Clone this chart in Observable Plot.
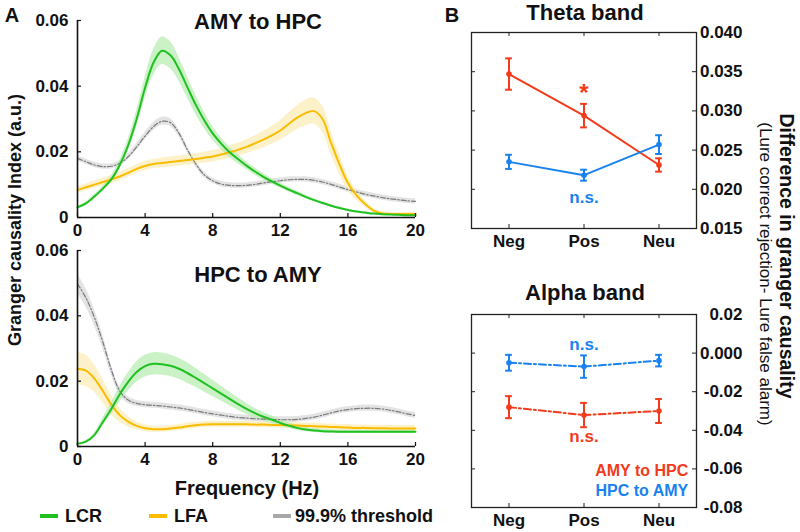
<!DOCTYPE html>
<html>
<head>
<meta charset="utf-8">
<script src="https://cdn.jsdelivr.net/npm/d3@7"></script>
<script src="https://cdn.jsdelivr.net/npm/@observablehq/plot@0.6"></script>
<style>
  html, body { margin:0; padding:0; background:#fff; }
  #wrap { position:relative; width:800px; height:532px; overflow:hidden; background:#fff;
          font-family:"Liberation Sans", Arial, Helvetica, sans-serif; color:#111; }
  #wrap svg { position:absolute; background:transparent; }
  .t { position:absolute; white-space:nowrap; }
</style>
</head>
<body>
<div id="wrap"></div>
<script>
// ---------- Panel A data ----------
const freq = [0,0.5,1,1.5,2,2.5,3,3.5,4,4.5,5,5.5,6,6.5,7,7.5,8,8.5,9,9.5,10,10.5,11,11.5,12,12.5,13,13.5,14,14.5,15,15.5,16,16.5,17,17.5,18,18.5,19,19.5,20];

// AMY to HPC
const lcrAmyHpc = [0.0031,0.0043,0.0064,0.0088,0.0116,0.0160,0.0220,0.0300,0.0395,0.0472,0.0508,0.0494,0.0452,0.0397,0.0343,0.0296,0.0256,0.0225,0.0199,0.0178,0.0158,0.0140,0.0124,0.0110,0.0097,0.0085,0.0074,0.0063,0.0053,0.0044,0.0036,0.0029,0.0023,0.0018,0.0015,0.0012,0.0010,0.0009,0.0008,0.0007,0.0007];
const lcrAmyHpcErr = [0.0003,0.0004,0.0006,0.0008,0.0010,0.0014,0.0019,0.0025,0.0032,0.0039,0.0042,0.0041,0.0037,0.0033,0.0029,0.0025,0.0021,0.0018,0.0016,0.0014,0.0012,0.0011,0.0010,0.0009,0.0008,0.0007,0.0006,0.0005,0.0004,0.0004,0.0003,0.0003,0.0002,0.0002,0.0002,0.0002,0.0002,0.0002,0.0002,0.0002,0.0002];
const lfaAmyHpc = [0.0084,0.0092,0.0100,0.0108,0.0116,0.0125,0.0136,0.0148,0.0157,0.0163,0.0166,0.0169,0.0172,0.0175,0.0178,0.0182,0.0186,0.0192,0.0199,0.0206,0.0215,0.0226,0.0237,0.0250,0.0265,0.0285,0.0304,0.0318,0.0324,0.0300,0.0228,0.0162,0.0105,0.0068,0.0042,0.0022,0.0013,0.0011,0.0011,0.0011,0.0011];
const lfaAmyHpcErr = [0.0010,0.0010,0.0011,0.0011,0.0012,0.0012,0.0013,0.0013,0.0014,0.0014,0.0015,0.0015,0.0015,0.0016,0.0016,0.0017,0.0017,0.0018,0.0019,0.0020,0.0021,0.0023,0.0025,0.0027,0.0030,0.0033,0.0036,0.0039,0.0040,0.0040,0.0036,0.0030,0.0022,0.0015,0.0010,0.0007,0.0005,0.0004,0.0004,0.0004,0.0004];
const thrAmyHpc = [0.0180,0.0170,0.0160,0.0155,0.0156,0.0165,0.0185,0.0215,0.0248,0.0277,0.0293,0.0289,0.0257,0.0207,0.0163,0.0130,0.0112,0.0102,0.0098,0.0097,0.0098,0.0101,0.0105,0.0109,0.0112,0.0115,0.0116,0.0116,0.0113,0.0108,0.0101,0.0093,0.0085,0.0078,0.0071,0.0066,0.0061,0.0057,0.0054,0.0051,0.0049];
const thrAmyHpcErr = [0.0008,0.0008,0.0008,0.0008,0.0008,0.0008,0.0009,0.0010,0.0011,0.0012,0.0012,0.0012,0.0011,0.0010,0.0009,0.0008,0.0008,0.0008,0.0008,0.0008,0.0008,0.0008,0.0008,0.0008,0.0008,0.0008,0.0008,0.0008,0.0008,0.0008,0.0008,0.0008,0.0008,0.0008,0.0008,0.0008,0.0008,0.0008,0.0008,0.0008,0.0008];

// HPC to AMY
const lcrHpcAmy = [0.0008,0.0015,0.0035,0.0075,0.0115,0.0160,0.0198,0.0228,0.0246,0.0253,0.0252,0.0247,0.0238,0.0225,0.0210,0.0194,0.0178,0.0162,0.0146,0.0130,0.0115,0.0102,0.0091,0.0082,0.0072,0.0064,0.0057,0.0052,0.0049,0.0047,0.0046,0.0045,0.0045,0.0045,0.0045,0.0045,0.0045,0.0045,0.0045,0.0045,0.0045];
const lcrHpcAmyErr = [0.0002,0.0003,0.0006,0.0012,0.0018,0.0024,0.0028,0.0031,0.0033,0.0034,0.0034,0.0033,0.0032,0.0031,0.0029,0.0027,0.0025,0.0023,0.0021,0.0019,0.0017,0.0015,0.0013,0.0012,0.0010,0.0009,0.0008,0.0007,0.0006,0.0006,0.0005,0.0005,0.0005,0.0005,0.0005,0.0005,0.0005,0.0005,0.0005,0.0005,0.0005];
const lfaHpcAmy = [0.0238,0.0232,0.0208,0.0170,0.0128,0.0096,0.0076,0.0063,0.0056,0.0053,0.0053,0.0055,0.0058,0.0062,0.0065,0.0067,0.0068,0.0068,0.0068,0.0068,0.0068,0.0067,0.0067,0.0066,0.0066,0.0065,0.0064,0.0063,0.0062,0.0061,0.0060,0.0059,0.0058,0.0057,0.0057,0.0056,0.0056,0.0055,0.0055,0.0055,0.0055];
const lfaHpcAmyErr = [0.0050,0.0048,0.0042,0.0036,0.0030,0.0022,0.0016,0.0012,0.0010,0.0009,0.0009,0.0009,0.0009,0.0009,0.0009,0.0009,0.0009,0.0009,0.0009,0.0009,0.0009,0.0009,0.0009,0.0009,0.0009,0.0009,0.0009,0.0009,0.0009,0.0009,0.0009,0.0009,0.0009,0.0009,0.0009,0.0009,0.0009,0.0009,0.0009,0.0009,0.0009];
const thrHpcAmy = [0.0498,0.0455,0.0395,0.0320,0.0235,0.0170,0.0142,0.0132,0.0128,0.0126,0.0124,0.0121,0.0118,0.0114,0.0109,0.0104,0.0100,0.0096,0.0092,0.0089,0.0087,0.0085,0.0084,0.0083,0.0082,0.0082,0.0083,0.0086,0.0090,0.0096,0.0103,0.0109,0.0113,0.0116,0.0117,0.0117,0.0115,0.0111,0.0106,0.0100,0.0095];
const thrHpcAmyErr = [0.0030,0.0028,0.0025,0.0020,0.0016,0.0012,0.0010,0.0009,0.0009,0.0009,0.0009,0.0009,0.0009,0.0009,0.0009,0.0009,0.0009,0.0009,0.0009,0.0009,0.0009,0.0009,0.0009,0.0009,0.0009,0.0009,0.0009,0.0009,0.0009,0.0009,0.0009,0.0009,0.0009,0.0009,0.0009,0.0009,0.0009,0.0009,0.0009,0.0009,0.0009];

const freqTicks = [0,4,8,12,16,20];
const gcTicks = [0,0.02,0.04,0.06];
const gcTickLabels = ["0","0.02","0.04","0.06"];

// ---------- Panel B data ----------
const conditions = ["Neg","Pos","Neu"];
const condIndex = [1,2,3];
const thetaAmyHpc = [0.0347,0.0294,0.0231];
const thetaAmyHpcErr = [0.0020,0.0015,0.00085];
const thetaHpcAmy = [0.0235,0.0218,0.0257];
const thetaHpcAmyErr = [0.0009,0.0007,0.0012];
const alphaAmyHpc = [-0.0280,-0.0321,-0.0300];
const alphaAmyHpcErr = [0.0057,0.0063,0.0062];
const alphaHpcAmy = [-0.0050,-0.0070,-0.0039];
const alphaHpcAmyErr = [0.0041,0.0058,0.0030];
const thetaTicks = [0.015,0.020,0.025,0.030,0.035,0.040];
const thetaTickLabels = ["0.015","0.020","0.025","0.030","0.035","0.040"];
const alphaTicks = [-0.08,-0.06,-0.04,-0.02,0,0.02];
const alphaTickLabels = ["-0.08","-0.06","-0.04","-0.02","0.000","0.02"];

// annotations (data units)
const thetaNotes = [{x:2, y:0.0322, text:"*", dir:"AMY to HPC", size:24},
                    {x:2, y:0.0190, text:"n.s.", dir:"HPC to AMY", size:17}];
const alphaNotes = [{x:2, y:0.0046, text:"n.s.", dir:"HPC to AMY", size:17},
                    {x:2, y:-0.0432, text:"n.s.", dir:"AMY to HPC", size:17}];
const alphaLegend = [{x:3.39, y:-0.0612, text:"AMY to HPC", dir:"AMY to HPC"},
                     {x:3.39, y:-0.0715, text:"HPC to AMY", dir:"HPC to AMY"}];

// ---------- colours ----------
const GREEN = "#1fc01f", GREEN_BAND = "#b9ecb4";
const YELLOW = "#f9bc00", YELLOW_BAND = "#fbeebb";
const GRAY = "#7a7a7a", GRAY_BAND = "#dedede";
const RED = "#f23b1a", BLUE = "#1a82ef";
const dirColor = {"AMY to HPC": RED, "HPC to AMY": BLUE};
const FONT = '"Liberation Sans", Arial, Helvetica, sans-serif';

const wrap = document.getElementById("wrap");

function rows(vals, errs) {
  return freq.map((f, i) => ({f, v: vals[i], lo: vals[i] - errs[i], hi: vals[i] + errs[i]}));
}

function panelA(lcr, lcrE, lfa, lfaE, thr, thrE, mt, mb, top) {
  const H = 240, W = 430, ML = 77, MR = 15;
  const plotH = H - mt - mb, plotW = W - ML - MR;
  const g = rows(lcr, lcrE), y = rows(lfa, lfaE), t = rows(thr, thrE);
  const curve = "catmull-rom";
  const svg = Plot.plot({
    width: W, height: H, marginLeft: ML, marginRight: MR, marginTop: mt, marginBottom: mb,
    style: {fontFamily: FONT, fontSize: "17px", fontWeight: "bold", color: "#111", background: "transparent", overflow: "visible"},
    x: {domain: [0, 20], ticks: freqTicks, tickSize: 0, tickPadding: 6, label: null},
    y: {domain: [0, 0.06], ticks: gcTicks, tickSize: 0, tickPadding: 9, label: null,
        tickFormat: d => gcTickLabels[gcTicks.indexOf(d)]},
    marks: [
      Plot.areaY(t, {x: "f", y1: "lo", y2: "hi", fill: GRAY_BAND, fillOpacity: 0.85, curve}),
      Plot.areaY(y, {x: "f", y1: "lo", y2: "hi", fill: YELLOW_BAND, fillOpacity: 0.8, curve}),
      Plot.areaY(g, {x: "f", y1: "lo", y2: "hi", fill: GREEN_BAND, fillOpacity: 0.75, curve}),
      Plot.line(t, {x: "f", y: "v", stroke: GRAY, strokeWidth: 1.2, strokeDasharray: "5,2,1.5,2", curve}),
      Plot.line(y, {x: "f", y: "v", stroke: YELLOW, strokeWidth: 2, curve}),
      Plot.line(g, {x: "f", y: "v", stroke: GREEN, strokeWidth: 2, curve}),
      Plot.tickX(freqTicks, {x: d => d, stroke: "#111", strokeWidth: 1.2, insetTop: plotH - 4}),
      Plot.tickY(gcTicks, {y: d => d, stroke: "#111", strokeWidth: 1.2, insetRight: plotW - 4}),
      Plot.ruleX([0], {stroke: "#111", strokeWidth: 1.6}),
      Plot.ruleY([0], {stroke: "#111", strokeWidth: 1.6})
    ]
  });
  svg.style.left = "0px"; svg.style.top = top + "px";
  wrap.appendChild(svg);
}

function bRows(vals, errs, dir) {
  return condIndex.map((i, k) => ({i, c: conditions[k], v: vals[k], lo: vals[k] - errs[k], hi: vals[k] + errs[k], dir}));
}

function panelB(amy, amyE, hpc, hpcE, ticks, tickLabels, domain, mt, mb, H, top, dash, notes, legend) {
  const W = 400, ML = 71, MR = 104;
  const plotH = H - mt - mb, plotW = W - ML - MR;
  const data = [bRows(amy, amyE, "AMY to HPC"), bRows(hpc, hpcE, "HPC to AMY")];
  const marks = [];
  for (const d of data) {
    const col = dirColor[d[0].dir];
    marks.push(Plot.line(d, {x: "i", y: "v", stroke: col, strokeWidth: 2, strokeDasharray: dash}));
    marks.push(Plot.ruleX(d, {x: "i", y1: "lo", y2: "hi", stroke: col, strokeWidth: 2}));
    marks.push(Plot.ruleY(d, {y: "hi", x1: r => r.i - 0.045, x2: r => r.i + 0.045, stroke: col, strokeWidth: 2}));
    marks.push(Plot.ruleY(d, {y: "lo", x1: r => r.i - 0.045, x2: r => r.i + 0.045, stroke: col, strokeWidth: 2}));
    marks.push(Plot.dot(d, {x: "i", y: "v", r: 2.8, fill: col, stroke: "none"}));
  }
  marks.push(Plot.text(notes, {x: "x", y: "y", text: "text", fill: d => dirColor[d.dir], fontSize: d => d.size, fontWeight: "bold"}));
  if (legend) marks.push(Plot.text(legend, {x: "x", y: "y", text: "text", fill: d => dirColor[d.dir], textAnchor: "end", fontSize: 16, fontWeight: "bold"}));
  marks.push(
    Plot.tickY(ticks, {y: d => d, stroke: "#222", strokeWidth: 1, insetRight: plotW - 4}),
    Plot.tickY(ticks, {y: d => d, stroke: "#222", strokeWidth: 1, insetLeft: plotW - 4}),
    Plot.tickX(condIndex, {x: d => d, stroke: "#222", strokeWidth: 1, insetTop: plotH - 4}),
    Plot.tickX(condIndex, {x: d => d, stroke: "#222", strokeWidth: 1, insetBottom: plotH - 4}),
    Plot.frame({stroke: "#222", strokeWidth: 1.3}),
    Plot.axisX(condIndex, {anchor: "bottom", tickSize: 0, tickPadding: 6, label: null, tickFormat: i => conditions[i - 1]}),
    Plot.axisY(ticks, {anchor: "right", tickSize: 0, tickPadding: 46, textAnchor: "end", label: null,
                       tickFormat: d => tickLabels[ticks.indexOf(d)]})
  );
  const svg = Plot.plot({
    width: W, height: H, marginLeft: ML, marginRight: MR, marginTop: mt, marginBottom: mb,
    style: {fontFamily: FONT, fontSize: "17px", fontWeight: "bold", color: "#111", background: "transparent", overflow: "visible"},
    x: {domain: [0.5, 3.5]},
    y: {domain},
    marks
  });
  svg.style.left = "400px"; svg.style.top = top + "px";
  wrap.appendChild(svg);
}

panelA(lcrAmyHpc, lcrAmyHpcErr, lfaAmyHpc, lfaAmyHpcErr, thrAmyHpc, thrAmyHpcErr, 20, 23, 0);
panelA(lcrHpcAmy, lcrHpcAmyErr, lfaHpcAmy, lfaHpcAmyErr, thrHpcAmy, thrHpcAmyErr, 10, 34, 240);
panelB(thetaAmyHpc, thetaAmyHpcErr, thetaHpcAmy, thetaHpcAmyErr, thetaTicks, thetaTickLabels, [0.015, 0.040], 32, 30, 258, 0, null, thetaNotes, null);
panelB(alphaAmyHpc, alphaAmyHpcErr, alphaHpcAmy, alphaHpcAmyErr, alphaTicks, alphaTickLabels, [-0.08, 0.02], 56, 25, 274, 258, "7,3,2,3", alphaNotes, alphaLegend);

// ---------- text ----------
function label(text, x, y, css, rot) {
  const d = document.createElement("div");
  d.className = "t";
  d.textContent = text;
  d.style.left = x + "px"; d.style.top = y + "px";
  d.style.transform = "translate(-50%,-50%)" + (rot ? ` rotate(${rot}deg)` : "");
  d.style.cssText += css;
  wrap.appendChild(d);
}
label("A", 12, 15, "font-size:20px;font-weight:bold;");
label("B", 452, 15, "font-size:20px;font-weight:bold;");
label("AMY to HPC", 258, 22, "font-size:22px;font-weight:bold;");
label("HPC to AMY", 258, 275, "font-size:22px;font-weight:bold;");
label("Theta band", 585, 13, "font-size:22px;font-weight:bold;");
label("Alpha band", 585, 293, "font-size:22px;font-weight:bold;");
label("Frequency (Hz)", 247, 488, "font-size:20px;font-weight:bold;");
label("Granger causality Index (a.u.)", 15, 220, "font-size:18px;font-weight:bold;", -90);
label("Difference in granger causality", 786, 256, "font-size:19.5px;font-weight:bold;", 90);
label("(Lure correct rejection- Lure false alarm)", 765, 274, "font-size:17px;", 90);

// legend for panel A
const legendItems = [
  {name: "LCR", color: GREEN, x: 40},
  {name: "LFA", color: YELLOW, x: 149},
  {name: "99.9% threshold", color: "#a8a8a8", x: 273}
];
for (const it of legendItems) {
  const sw = document.createElement("div");
  sw.style.cssText = `position:absolute;left:${it.x}px;top:514px;width:18px;height:4px;background:${it.color};`;
  wrap.appendChild(sw);
  const tx = document.createElement("div");
  tx.className = "t";
  tx.textContent = it.name;
  tx.style.cssText += `left:${it.x + (it.name.length > 4 ? 22 : 25)}px;top:505px;font-size:18px;font-weight:bold;line-height:22px;`;
  wrap.appendChild(tx);
}
</script>
</body>
</html>
